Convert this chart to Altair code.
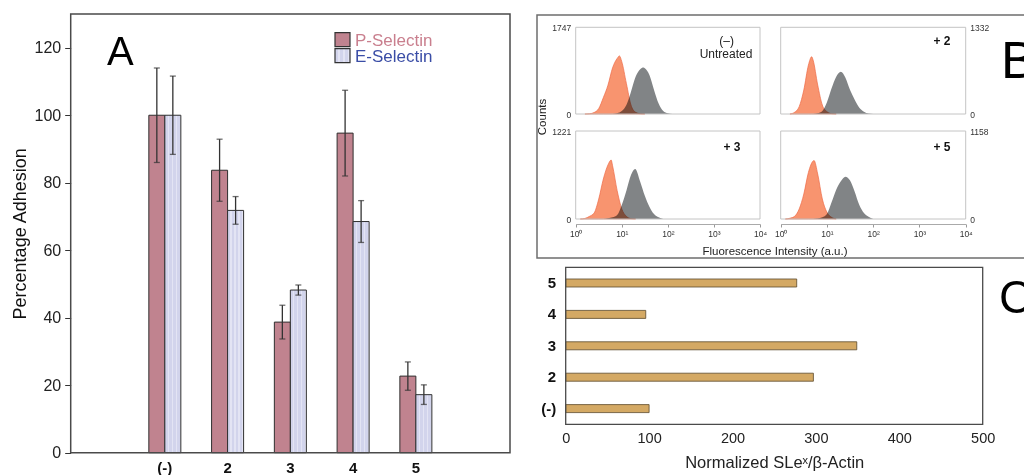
import altair as alt
import pandas as pd

W, H = 1024, 475
FONT = "Liberation Sans"

# ---------------- Panel A : adhesion ----------------
groups = ["(-)", "2", "3", "4", "5"]
series = ["P-Selectin", "E-Selectin"]
p_vals = [100, 83.7, 38.7, 94.7, 22.7]
p_err = [14.0, 9.2, 5.0, 12.7, 4.2]
e_vals = [100, 71.8, 48.2, 68.5, 17.2]
e_err = [11.6, 4.1, 1.5, 6.2, 2.9]
a_ticks = [0, 20, 40, 60, 80, 100, 120]

# ---------------- Panel B : flow cytometry histograms (log10 intensity, counts) ----------------
tl_max = 1747
tl_o_log = [0.2, 0.3, 0.4, 0.5, 0.6, 0.7, 0.8, 0.9, 0.95, 1.0, 1.1, 1.2, 1.3, 1.4, 1.5]
tl_o_cnt = [0, 5, 30, 110, 330, 580, 930, 1120, 1170, 1055, 615, 180, 35, 5, 0]
tl_g_log = [0.8, 0.9, 1.0, 1.1, 1.2, 1.3, 1.4, 1.47, 1.5, 1.6, 1.7, 1.8, 1.9, 2.0, 2.1]
tl_g_cnt = [0, 15, 60, 180, 450, 750, 900, 935, 920, 785, 485, 210, 60, 15, 0]

tr_max = 1332
tr_o_log = [0.2, 0.3, 0.4, 0.5, 0.6, 0.67, 0.7, 0.8, 0.9, 1.0, 1.1, 1.2]
tr_o_cnt = [0, 26, 113, 369, 753, 880, 829, 446, 138, 36, 5, 0]
tr_g_log = [0.7, 0.8, 0.9, 1.0, 1.1, 1.2, 1.3, 1.4, 1.5, 1.6, 1.7, 1.8, 1.9, 2.0]
tr_g_cnt = [0, 10, 46, 180, 394, 573, 650, 558, 369, 220, 97, 36, 8, 0]

bl_max = 1221
bl_o_log = [0.1, 0.2, 0.3, 0.4, 0.5, 0.6, 0.7, 0.77, 0.8, 0.9, 1.0, 1.1, 1.2, 1.3]
bl_o_cnt = [0, 8, 37, 83, 277, 555, 750, 818, 740, 393, 139, 37, 5, 0]
bl_g_log = [0.6, 0.7, 0.8, 0.9, 1.0, 1.1, 1.2, 1.29, 1.4, 1.5, 1.6, 1.7, 1.8, 1.9]
bl_g_cnt = [0, 10, 23, 55, 194, 393, 610, 693, 518, 324, 171, 69, 23, 0]

br_max = 1158
br_o_log = [0.1, 0.2, 0.3, 0.4, 0.5, 0.6, 0.7, 0.72, 0.8, 0.9, 1.0, 1.1, 1.2]
br_o_cnt = [0, 10, 35, 132, 329, 614, 763, 770, 592, 263, 88, 22, 0]
br_g_log = [0.7, 0.8, 0.9, 1.0, 1.1, 1.2, 1.3, 1.4, 1.5, 1.6, 1.7, 1.8, 1.9, 2.0]
br_g_cnt = [0, 8, 22, 66, 219, 386, 496, 557, 505, 360, 184, 79, 31, 0]

b_xticks = [1, 10, 100, 1000, 10000]

# ---------------- Panel C : SLeX / beta-actin ----------------
c_groups = ["5", "4", "3", "2", "(-)"]
c_vals = [277, 96, 349, 297, 100]
c_ticks = [0, 100, 200, 300, 400, 500]

# ---------------- geometry / style ----------------
A_BOX = (70.7, 14.0, 510.0, 452.7)
B_OUTER = (537.0, 15.0, 1032.0, 258.0)
B_BOXES = {
    "tl": (575.7, 27.3, 760.0, 114.0),
    "tr": (780.7, 27.3, 965.7, 114.0),
    "bl": (575.7, 131.0, 760.0, 219.0),
    "br": (780.7, 131.0, 965.7, 219.0),
}
B_XAXIS_Y = 224.0
C_BOX = (565.7, 267.3, 982.7, 424.3)

P_FILL = "#c0838f"
E_BASE = "#d2d4ec"
E_LIGHT = "#e3e4f4"
ORANGE = "#f8946f"
ORANGE_EDGE = "#ee6a46"
GRAY = "#818486"
TAN = "#d4a964"


def stripes(n):
    stops = []
    for k in range(n):
        a = k / n
        m = a + 0.7 / n
        b = (k + 1) / n
        stops += [
            alt.GradientStop(offset=a, color=E_BASE),
            alt.GradientStop(offset=m, color=E_BASE),
            alt.GradientStop(offset=m, color=E_LIGHT),
            alt.GradientStop(offset=b, color=E_LIGHT),
        ]
    return alt.LinearGradient(gradient="linear", x1=0, x2=1, y1=0, y2=0, stops=stops)


one = alt.Data(values=[{"k": 0}])


def frame(box, color, width):
    x0, y0, x1, y1 = box
    return alt.Chart(one).mark_rect(filled=False, stroke=color, strokeWidth=width).encode(
        x=alt.value(x0), x2=alt.value(x1), y=alt.value(y0), y2=alt.value(y1)
    )


def label(text, x, y, size, weight="normal", color="#000000", align="center",
          baseline="middle", angle=0):
    return alt.Chart(alt.Data(values=[{"t": text}])).mark_text(
        fontSize=size, fontWeight=weight, color=color, align=align,
        baseline=baseline, angle=angle, font=FONT
    ).encode(x=alt.value(x), y=alt.value(y), text="t:N")


# ---------------- Panel A ----------------
rows = []
for i, g in enumerate(groups):
    rows.append(dict(group=g, series=series[0], value=p_vals[i],
                     lo=p_vals[i] - p_err[i], hi=p_vals[i] + p_err[i]))
    rows.append(dict(group=g, series=series[1], value=e_vals[i],
                     lo=e_vals[i] - e_err[i], hi=e_vals[i] + e_err[i]))
dfA = pd.DataFrame(rows)

xA = alt.Scale(domain=[" "] + groups + ["  "], range=[A_BOX[0], A_BOX[2]],
               paddingInner=0.49, paddingOuter=0.245)
yA = alt.Scale(domain=[0, 130], range=[A_BOX[3], A_BOX[1]], nice=False)
offA = alt.Scale(domain=series, paddingInner=0, paddingOuter=0)

xA_axis = alt.Axis(orient="bottom", offset=A_BOX[3] - H, ticks=False, domain=False,
                   labelFontSize=15, labelFontWeight="bold", labelColor="#111111",
                   labelPadding=8, labelAngle=0, title=None)
yA_axis = alt.Axis(orient="left", offset=-A_BOX[0], values=a_ticks, tickSize=6,
                   tickColor="#333333", domain=False, labelFontSize=16,
                   labelColor="#222222", labelPadding=4, title="Percentage Adhesion",
                   titleFontSize=18, titleFontWeight="normal", titleColor="#111111",
                   titlePadding=5)

encX = alt.X("group:N", scale=xA, axis=xA_axis)
encO = alt.XOffset("series:N", scale=offA)
baseA = alt.Chart(dfA)

barsP = baseA.transform_filter(alt.datum.series == series[0]).mark_bar(
    fill=P_FILL, stroke="#2f2f2f", strokeWidth=1
).encode(x=encX, xOffset=encO, y=alt.Y("value:Q", scale=yA, axis=yA_axis))

barsE = baseA.transform_filter(alt.datum.series == series[1]).mark_bar(
    fill=stripes(4), stroke="#2f2f2f", strokeWidth=1
).encode(x=encX, xOffset=encO, y=alt.Y("value:Q", scale=yA, axis=yA_axis))

errA = baseA.mark_rule(color="#333333", strokeWidth=1.3).encode(
    x=encX, xOffset=encO, y=alt.Y("lo:Q", scale=yA, axis=yA_axis), y2="hi:Q"
)
capHi = baseA.mark_tick(orient="horizontal", size=6, thickness=1.3, color="#333333").encode(
    x=encX, xOffset=encO, y=alt.Y("hi:Q", scale=yA, axis=yA_axis)
)
capLo = baseA.mark_tick(orient="horizontal", size=6, thickness=1.3, color="#333333").encode(
    x=encX, xOffset=encO, y=alt.Y("lo:Q", scale=yA, axis=yA_axis)
)
panelA = alt.layer(barsP, barsE, errA, capHi, capLo)

# legend for A
legP_box = alt.Chart(one).mark_rect(fill=P_FILL, stroke="#333333", strokeWidth=1.2).encode(
    x=alt.value(335), x2=alt.value(350), y=alt.value(32.7), y2=alt.value(46.7))
legE_box = alt.Chart(one).mark_rect(fill=stripes(3), stroke="#333333", strokeWidth=1.2).encode(
    x=alt.value(335), x2=alt.value(350), y=alt.value(48.7), y2=alt.value(62.7))
legP_txt = label(series[0], 355, 40.5, 17, color="#c97f8e", align="left")
legE_txt = label(series[1], 355, 56.5, 17, color="#3a4da6", align="left")


# ---------------- Panel B ----------------
def hist_panel(key, ymax, o_log, o_cnt, g_log, g_cnt, side, show_x):
    x0, y0, x1, y1 = B_BOXES[key]
    dfo = pd.DataFrame({"inten": [10 ** v for v in o_log], "count": o_cnt})
    dfg = pd.DataFrame({"inten": [10 ** v for v in g_log], "count": g_cnt})
    xs = alt.Scale(type="log", domain=[1, 10000], range=[x0, x1], nice=False)
    ys = alt.Scale(domain=[0, ymax], range=[y1, y0], nice=False, zero=True)
    if show_x:
        xax = alt.Axis(orient="bottom", offset=B_XAXIS_Y - H, values=b_xticks,
                       labelExpr="'10' + ['\u2070','\u00b9','\u00b2','\u00b3','\u2074'][round(log(datum.value)/LN10)]",
                       tickSize=3, tickColor="#999999", domainColor="#aaaaaa",
                       labelFontSize=8.5, labelColor="#333333", labelPadding=2,
                       labelFlush=False, labelOverlap=False, title=None)
    else:
        xax = None
    if side == "left":
        yax = alt.Axis(orient="left", offset=-x0, values=[0, ymax], format="d",
                       ticks=False, domain=False, labelFontSize=8.5,
                       labelColor="#333333", labelPadding=5, title=None)
    else:
        yax = alt.Axis(orient="right", offset=x1 - W, values=[0, ymax], format="d",
                       ticks=False, domain=False, labelFontSize=8.5,
                       labelColor="#333333", labelPadding=4, title=None)
    g = alt.Chart(dfg).mark_area(color=GRAY, interpolate="monotone").encode(
        x=alt.X("inten:Q", scale=xs, axis=xax),
        y=alt.Y("count:Q", scale=ys, axis=yax),
    )
    o = alt.Chart(dfo).mark_area(color=ORANGE, stroke=ORANGE_EDGE, strokeWidth=0.7,
                                 interpolate="monotone", blend="multiply").encode(
        x=alt.X("inten:Q", scale=xs, axis=xax),
        y=alt.Y("count:Q", scale=ys, axis=yax),
    )
    return alt.layer(g, o)


tl = hist_panel("tl", tl_max, tl_o_log, tl_o_cnt, tl_g_log, tl_g_cnt, "left", False)
tr = hist_panel("tr", tr_max, tr_o_log, tr_o_cnt, tr_g_log, tr_g_cnt, "right", False)
bl = hist_panel("bl", bl_max, bl_o_log, bl_o_cnt, bl_g_log, bl_g_cnt, "left", True)
br = hist_panel("br", br_max, br_o_log, br_o_cnt, br_g_log, br_g_cnt, "right", True)

# ---------------- Panel C ----------------
dfC = pd.DataFrame({"group": c_groups, "value": c_vals})
xC = alt.Scale(domain=[0, 500], range=[C_BOX[0], C_BOX[2]], nice=False)
yC = alt.Scale(domain=c_groups, range=[C_BOX[1], C_BOX[3]], paddingInner=0.745,
               paddingOuter=0.3725)
panelC = alt.Chart(dfC).mark_bar(fill=TAN, stroke="#5c4a2c", strokeWidth=0.8).encode(
    x=alt.X("value:Q", scale=xC,
            axis=alt.Axis(orient="bottom", offset=C_BOX[3] - H, values=c_ticks,
                          ticks=False, domain=False, labelFontSize=14.5,
                          labelColor="#222222", labelPadding=7, labelFlush=False,
                          title="Normalized SLe\u02e3/\u03b2-Actin", titleFontSize=16.5,
                          titleFontWeight="normal", titleColor="#222222",
                          titlePadding=10)),
    y=alt.Y("group:N", scale=yC,
            axis=alt.Axis(orient="left", offset=-C_BOX[0], ticks=False, domain=False,
                          labelFontSize=15, labelFontWeight="bold",
                          labelColor="#111111", labelPadding=10, title=None)),
)

# ---------------- frames & annotations ----------------
frames = [
    frame(A_BOX, "#4a4a4a", 1.5),
    frame(B_OUTER, "#6e6e6e", 1.5),
    frame(C_BOX, "#4a4a4a", 1.3),
] + [frame(b, "#c4c4c4", 1) for b in B_BOXES.values()]

texts = [
    label("A", 107, 65, 40, baseline="alphabetic", align="left"),
    label("B", 1001, 78, 52, baseline="alphabetic", align="left"),
    label("C", 999, 313, 46, baseline="alphabetic", align="left"),
    label("(\u2013)", 726.7, 40.7, 12, color="#222222"),
    label("Untreated", 726.0, 53.5, 12, color="#222222"),
    label("+ 2", 942, 41, 12, weight="bold", color="#111111"),
    label("+ 3", 732, 147, 12, weight="bold", color="#111111"),
    label("+ 5", 942, 147, 12, weight="bold", color="#111111"),
    label("Counts", 543, 117, 11.5, color="#222222", angle=270),
    label("Fluorescence Intensity (a.u.)", 775, 252, 11.5, color="#222222"),
    legP_txt, legE_txt,
]

chart = alt.layer(
    panelA, tl, tr, bl, br, panelC, *frames, legP_box, legE_box, *texts
).resolve_scale(
    x="independent", y="independent", xOffset="independent"
).properties(
    width=W, height=H, autosize=alt.AutoSizeParams(type="none"), padding=0,
    background="white"
).configure_view(stroke=None).configure_axis(
    labelFont=FONT, titleFont=FONT, grid=False
).configure_text(font=FONT)

chart.save("out.html", embed_options={"renderer": "svg", "actions": False})
